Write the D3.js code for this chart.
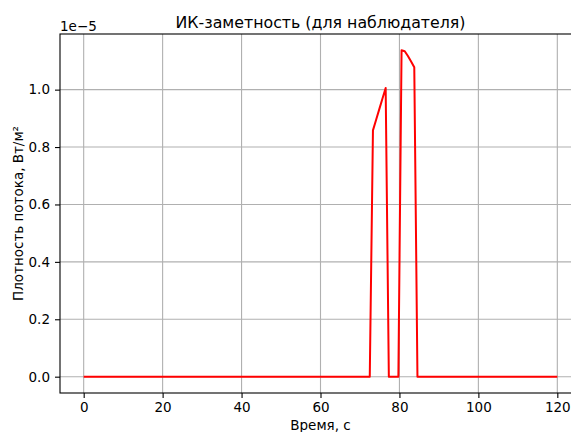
<!DOCTYPE html>
<html>
<head>
<meta charset="utf-8">
<script src="https://cdn.jsdelivr.net/npm/d3@7"></script>
<style>
  body { margin: 0; background: #fff; }
  svg { display: block; font-family: "DejaVu Sans", sans-serif; }
</style>
</head>
<body>
<svg width="571" height="432"></svg>
<script>
/* global d3 */

// sampling grid of the simulation: 150 points from 0 to 120 s
const timeStart = 0;
const timeEnd = 120;
const sampleCount = 150;

// flux density, units of 1e-5 W/m², one value per sample
const flux = [
  0, 0, 0, 0, 0, 0, 0, 0, 0, 0,
  0, 0, 0, 0, 0, 0, 0, 0, 0, 0,
  0, 0, 0, 0, 0, 0, 0, 0, 0, 0,
  0, 0, 0, 0, 0, 0, 0, 0, 0, 0,
  0, 0, 0, 0, 0, 0, 0, 0, 0, 0,
  0, 0, 0, 0, 0, 0, 0, 0, 0, 0,
  0, 0, 0, 0, 0, 0, 0, 0, 0, 0,
  0, 0, 0, 0, 0, 0, 0, 0, 0, 0,
  0, 0, 0, 0, 0, 0, 0, 0, 0, 0,
  0, 0.858, 0.895, 0.932, 0.969, 1.006, 0, 0, 0, 0,
  1.137, 1.134, 1.117, 1.098, 1.078, 0, 0, 0, 0, 0,
  0, 0, 0, 0, 0, 0, 0, 0, 0, 0,
  0, 0, 0, 0, 0, 0, 0, 0, 0, 0,
  0, 0, 0, 0, 0, 0, 0, 0, 0, 0,
  0, 0, 0, 0, 0, 0, 0, 0, 0, 0
];

const xTicks = [0, 20, 40, 60, 80, 100, 120];
const yTicks = [0, 0.2, 0.4, 0.6, 0.8, 1.0];

const titleText = "ИК-заметность (для наблюдателя)";
const xLabelText = "Время, с";
const yLabelText = "Плотность потока, Вт/м²";
const offsetText = "1e\u22125";

const root = d3.select("svg");

const layout = {
  left: 60,
  right: 581,
  top: 34,
  bottom: 393
};

const times = d3.range(sampleCount).map((k) => timeStart + k * (timeEnd - timeStart) / (sampleCount - 1));
const rows = times.map((t, i) => ({ t, v: flux[i] }));

// matplotlib-like 5% margins
const pad = (lo, hi) => [lo - (hi - lo) * 0.05, hi + (hi - lo) * 0.05];

const x = d3.scaleLinear()
  .domain(pad(timeStart, timeEnd))
  .range([layout.left, layout.right]);

const y = d3.scaleLinear()
  .domain(pad(d3.min(flux), d3.max(flux)))
  .range([layout.bottom, layout.top]);

const gridColor = "#b0b0b0";
const fontSize = 13.5;

// grid
const grid = root.append("g").attr("class", "grid");
grid.selectAll(".gx").data(xTicks).enter().append("line")
  .attr("x1", (d) => x(d)).attr("x2", (d) => x(d))
  .attr("y1", layout.top).attr("y2", layout.bottom)
  .attr("stroke", gridColor).attr("stroke-width", 1.1);
grid.selectAll(".gy").data(yTicks).enter().append("line")
  .attr("x1", layout.left).attr("x2", layout.right)
  .attr("y1", (d) => y(d)).attr("y2", (d) => y(d))
  .attr("stroke", gridColor).attr("stroke-width", 1.1);

// data line
root.append("path")
  .datum(rows)
  .attr("fill", "none")
  .attr("stroke", "#ff0000")
  .attr("stroke-width", 2)
  .attr("stroke-linejoin", "round")
  .attr("d", d3.line().x((d) => x(d.t)).y((d) => y(d.v)));

// axes
const xAxis = d3.axisBottom(x)
  .tickValues(xTicks)
  .tickFormat(d3.format("d"))
  .tickSizeInner(5)
  .tickSizeOuter(0)
  .tickPadding(4);

const yAxis = d3.axisLeft(y)
  .tickValues(yTicks)
  .tickFormat(d3.format(".1f"))
  .tickSizeInner(5)
  .tickSizeOuter(0)
  .tickPadding(5);

const styleAxis = (g) => {
  g.select(".domain").remove();
  g.selectAll(".tick line").attr("stroke", "#000").attr("stroke-width", 1.1);
  g.selectAll(".tick text")
    .attr("fill", "#000")
    .style("font-size", fontSize + "px")
    .style("font-family", "DejaVu Sans, sans-serif");
};

root.append("g")
  .attr("transform", `translate(0, ${layout.bottom})`)
  .call(xAxis)
  .call(styleAxis);

root.append("g")
  .attr("transform", `translate(${layout.left}, 0)`)
  .call(yAxis)
  .call(styleAxis);

// spines
root.append("rect")
  .attr("x", layout.left)
  .attr("y", layout.top)
  .attr("width", layout.right - layout.left)
  .attr("height", layout.bottom - layout.top)
  .attr("fill", "none")
  .attr("stroke", "#000")
  .attr("stroke-width", 1.1);

// texts
root.append("text")
  .attr("x", (layout.left + layout.right) / 2)
  .attr("y", 28)
  .attr("text-anchor", "middle")
  .style("font-size", "15.8px")
  .text(titleText);

root.append("text")
  .attr("x", layout.left)
  .attr("y", 31)
  .style("font-size", fontSize + "px")
  .text(offsetText);

root.append("text")
  .attr("x", (layout.left + layout.right) / 2)
  .attr("y", 430)
  .attr("text-anchor", "middle")
  .style("font-size", fontSize + "px")
  .text(xLabelText);

root.append("text")
  .attr("transform", `translate(23, ${(layout.top + layout.bottom) / 2}) rotate(-90)`)
  .attr("text-anchor", "middle")
  .style("font-size", fontSize + "px")
  .text(yLabelText);
</script>
</body>
</html>
